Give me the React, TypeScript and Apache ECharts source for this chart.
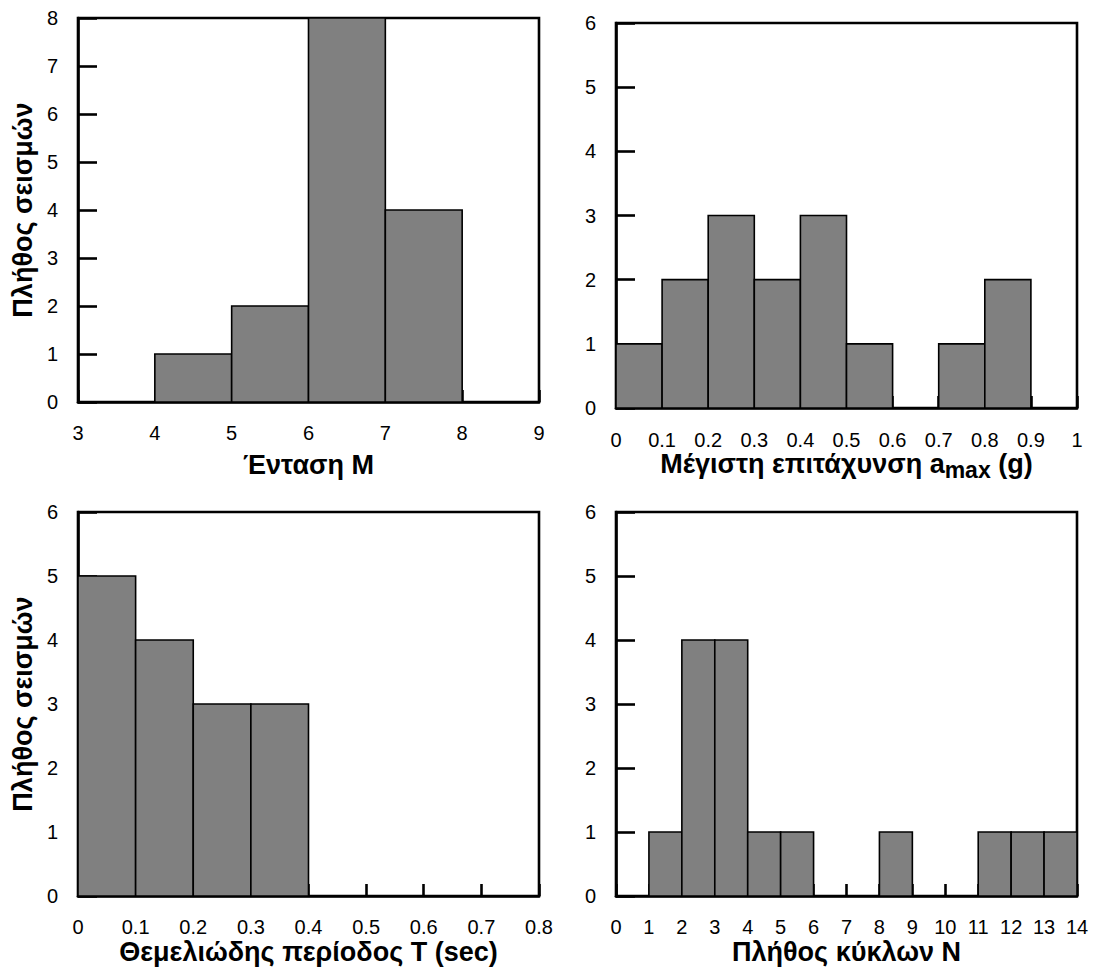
import React, { useEffect, useRef } from "react";
import * as echarts from "echarts";

// ---- data ----
const magnitudeEdges = [4, 5, 6, 7, 8];
const magnitudeCounts = [1, 2, 8, 4];

const accelEdges = [0, 0.1, 0.2, 0.3, 0.4, 0.5, 0.6, 0.7, 0.8, 0.9, 1.0];
const accelCounts = [1, 2, 3, 2, 3, 1, 0, 1, 2, 0];

const periodEdges = [0, 0.1, 0.2, 0.3, 0.4];
const periodCounts = [5, 4, 3, 3];

const cycleEdges = [1, 2, 3, 4, 5, 6, 7, 8, 9, 10, 11, 12, 13, 14];
const cycleCounts = [1, 4, 4, 1, 1, 0, 0, 1, 0, 0, 1, 1, 1];

const yTitle = "Πλήθος σεισμών";
const xTitles = [
  "Ένταση Μ",
  "Μέγιστη επιτάχυνση a{sub|max} (g)",
  "Θεμελιώδης περίοδος T (sec)",
  "Πλήθος κύκλων Ν",
];

const FONT = '"Liberation Sans", Arial, sans-serif';

function toBins(edges: number[], counts: number[]) {
  return counts.map((c, i) => [edges[i], edges[i + 1], c]);
}

export default function App() {
  const ref = useRef<HTMLDivElement>(null);

  useEffect(() => {
    if (!ref.current) return;
    const chart = echarts.init(ref.current, undefined, { renderer: "svg" });

    const grids = [
      { left: 78, top: 18, width: 461, height: 384 },
      { left: 616, top: 23, width: 461, height: 385 },
      { left: 78, top: 512, width: 461, height: 384 },
      { left: 616, top: 512, width: 461, height: 384 },
    ];
    const xRanges = [
      { min: 3, max: 9, interval: 1 },
      { min: 0, max: 1, interval: 0.1 },
      { min: 0, max: 0.8, interval: 0.1 },
      { min: 0, max: 14, interval: 1 },
    ];
    const yMax = [8, 6, 6, 6];
    const nameGaps = [49, 31, 42, 42];
    const labelMargins = [21, 22, 21, 21];
    const datasets = [
      toBins(magnitudeEdges, magnitudeCounts),
      toBins(accelEdges, accelCounts),
      toBins(periodEdges, periodCounts),
      toBins(cycleEdges, cycleCounts),
    ];

    const titleStyle = {
      fontFamily: FONT,
      fontSize: 27,
      fontWeight: "bold" as const,
      color: "#000",
    };

    const option: any = {
      animation: false,
      backgroundColor: "#fff",
      grid: grids.map((g) => ({
        ...g,
        show: true,
        borderColor: "#000",
        borderWidth: 2.6,
        backgroundColor: "#fff",
      })),
      xAxis: grids.map((_, i) => ({
        type: "value",
        gridIndex: i,
        min: xRanges[i].min,
        max: xRanges[i].max,
        interval: xRanges[i].interval,
        name: xTitles[i],
        nameLocation: "middle",
        nameGap: nameGaps[i],
        nameTextStyle: {
          ...titleStyle,
          rich: {
            sub: {
              fontFamily: FONT,
              fontSize: 23,
              fontWeight: "bold",
              color: "#000",
              padding: [11, 0, 0, 0],
            },
          },
        },
        axisLine: { show: true, onZero: false, lineStyle: { color: "#000", width: 2.6 } },
        axisTick: { show: true, inside: true, length: 12, lineStyle: { color: "#000", width: 2.6 } },
        axisLabel: {
          margin: labelMargins[i],
          fontFamily: FONT,
          fontSize: 20,
          color: "#000",
          showMinLabel: true,
          showMaxLabel: true,
        },
        splitLine: { show: false },
      })),
      yAxis: grids.map((_, i) => ({
        type: "value",
        gridIndex: i,
        min: 0,
        max: yMax[i],
        interval: 1,
        name: i === 0 || i === 2 ? yTitle : "",
        nameLocation: "middle",
        nameGap: 42,
        nameTextStyle: titleStyle,
        axisLine: { show: true, onZero: false, lineStyle: { color: "#000", width: 2.6 } },
        axisTick: { show: true, inside: true, length: 19, lineStyle: { color: "#000", width: 2.6 } },
        axisLabel: {
          margin: 20,
          fontFamily: FONT,
          fontSize: 20,
          color: "#000",
        },
        splitLine: { show: false },
      })),
      series: datasets.map((data, i) => ({
        type: "custom",
        xAxisIndex: i,
        yAxisIndex: i,
        encode: { x: [0, 1], y: 2 },
        data,
        clip: false,
        renderItem: (params: any, api: any) => {
          const x0 = api.value(0);
          const x1 = api.value(1);
          const v = api.value(2);
          if (!v) return { type: "group", children: [] };
          const p0 = api.coord([x0, v]);
          const p1 = api.coord([x1, 0]);
          return {
            type: "rect",
            shape: {
              x: p0[0],
              y: p0[1],
              width: p1[0] - p0[0],
              height: p1[1] - p0[1],
            },
            style: { fill: "#808080", stroke: "#000", lineWidth: 1.6 },
          };
        },
      })),
    };

    chart.setOption(option);
    return () => chart.dispose();
  }, []);

  return (
    <div
      ref={ref}
      style={{ position: "absolute", left: 0, top: 0, width: 1094, height: 974, background: "#fff" }}
    />
  );
}
